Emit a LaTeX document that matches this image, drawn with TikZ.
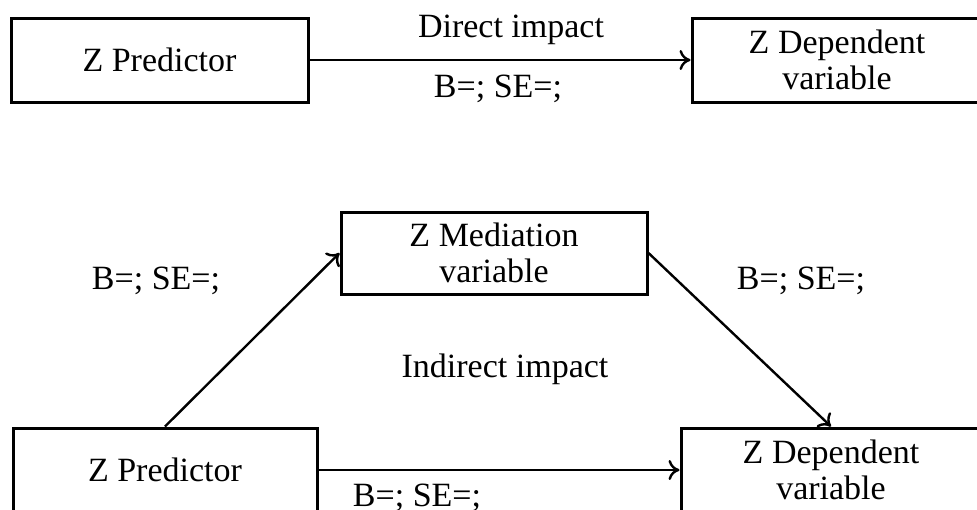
\documentclass[tikz,border=0pt]{standalone}
\usepackage{fontspec}
\setmainfont{Liberation Serif}
\usetikzlibrary{arrows.meta}

\tikzset{
  varbox/.style={draw,line width=3pt,align=center,inner sep=0pt,minimum height=84pt},
  coef/.style={anchor=base,inner sep=0pt},
  link/.style={-{To[length=11pt,width=20pt,line width=2.4pt]},line width=2.4pt},
}

\begin{document}
\begin{tikzpicture}[x=1pt,y=-1pt,font=\fontsize{34}{36}\selectfont]
\useasboundingbox (0,0) rectangle (977,509);
% direct model
\node[varbox,minimum width=297pt] (predA) at (159.5,60) {Z Predictor};
\node[varbox,minimum width=290pt] (depA) at (837,60) {Z Dependent\\variable};
\draw[link] (predA.east) -- (depA.west);
\node[coef] (direct) at (511,37) {Direct impact};
\node[coef] (bA) at (498,97) {B=; SE=;};
% mediation model
\node[varbox,minimum width=306pt,minimum height=82pt] (med) at (494,253) {Z Mediation\\variable};
\node[varbox,minimum width=304pt] (predB) at (165,470) {Z Predictor};
\node[varbox,minimum width=300pt] (depB) at (831,470) {Z Dependent\\variable};
\draw[link] (predB.north) -- (med.west);
\draw[link] (med.east) -- (depB.north);
\draw[link] (predB.east) -- (depB.west);
\node[coef] (bLeft) at (156,289) {B=; SE=;};
\node[coef] (bRight) at (801,289) {B=; SE=;};
\node[coef] (indirect) at (505,377) {Indirect impact};
\node[coef] (bB) at (417,506) {B=; SE=;};
\end{tikzpicture}
\end{document}
